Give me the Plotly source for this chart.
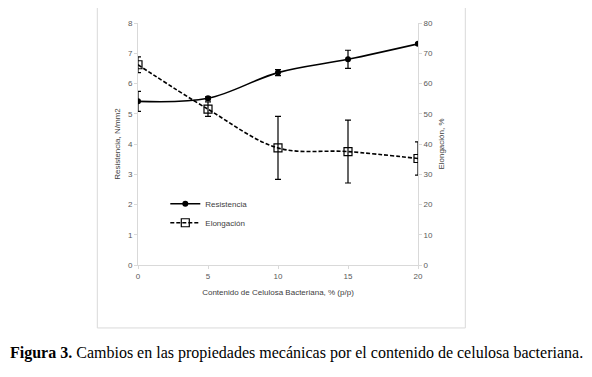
import plotly.graph_objects as go

contenido = [0, 5, 10, 15, 20]
resistencia = [5.41, 5.51, 6.36, 6.80, 7.31]
resistencia_err = [0.33, 0.05, 0.10, 0.30, 0.03]
elongacion = [66.2, 51.5, 38.7, 37.5, 35.2]
elongacion_err = [2.6, 2.4, 10.4, 10.4, 5.5]

# page body has an 8px margin: work in figure coordinates = screen - 8
OFF = 8
W, H = 592 - OFF, 377 - OFF
PL, PR, PT, PB = 137.7 - OFF, 417.7 - OFF, 19 - OFF, 265 - OFF
def px(x):
    return (x - OFF - PL) / (PR - PL)
def py(y):
    return (PB - (y - OFF)) / (PB - PT)

tick_font = dict(family="Liberation Sans, Arial", size=8, color="#595959")
title_font = dict(family="Liberation Sans, Arial", size=8, color="#404040")
grey = "#d9d9d9"

fig = go.Figure()
fig.add_trace(go.Scatter(
    x=contenido, y=resistencia, name="Resistencia", mode="lines+markers",
    line=dict(color="black", width=1.6, shape="spline"),
    marker=dict(symbol="circle", size=6, color="black"),
    error_y=dict(type="data", array=resistencia_err, color="black", thickness=1.2, width=3),
))
fig.add_trace(go.Scatter(
    x=contenido, y=elongacion, name="Elongación", mode="lines+markers", yaxis="y2",
    line=dict(color="black", width=1.6, dash="4px,2px", shape="spline"),
    marker=dict(symbol="square-open", size=8, color="black", line=dict(width=1.2)),
    error_y=dict(type="data", array=elongacion_err, color="black", thickness=1.2, width=3),
))

fig.update_layout(
    width=W, height=H, autosize=False,
    margin=dict(l=PL, r=W - PR, t=PT, b=H - PB),
    paper_bgcolor="white", plot_bgcolor="white",
    showlegend=True,
    legend=dict(x=px(165), y=py(188), xanchor="left", yanchor="top",
                bgcolor="rgba(0,0,0,0)", font=dict(family="Liberation Sans, Arial", size=8, color="#404040"),
                tracegroupgap=0),
    xaxis=dict(range=[0, 20], dtick=5, tickfont=tick_font, showgrid=False, zeroline=False,
               showline=True, linecolor=grey, linewidth=1, ticks="outside", ticklen=3, tickcolor=grey,
               title=dict(text="Contenido de Celulosa Bacteriana, % (p/p)", font=title_font, standoff=9)),
    yaxis=dict(range=[0, 8], dtick=1, tickfont=tick_font, showgrid=False, zeroline=False,
               showline=True, linecolor=grey, linewidth=1, ticks="outside", ticklen=3, tickcolor=grey,
               title=dict(text="Resistencia, N/mm2", font=title_font, standoff=6)),
    yaxis2=dict(range=[0, 80], dtick=10, overlaying="y", side="right", tickfont=tick_font,
                showgrid=False, zeroline=False, showline=True, linecolor=grey, linewidth=1,
                ticks="outside", ticklen=3, tickcolor=grey,
                title=dict(text="Elongación, %", font=title_font, standoff=6)),
    shapes=[dict(type="rect", xref="paper", yref="paper",
                 x0=px(97), x1=px(465), y0=py(329), y1=py(3),
                 line=dict(color=grey, width=1), fillcolor="rgba(0,0,0,0)", layer="below")],
    annotations=[dict(xref="paper", yref="paper", x=px(8), y=py(354), xanchor="left", yanchor="middle",
                      showarrow=False,
                      text="<b>Figura 3.</b> Cambios en las propiedades mecánicas por el contenido de celulosa bacteriana.",
                      font=dict(family="Liberation Serif, Times New Roman", size=16, color="black"))],
)

fig.write_html("out.html")
